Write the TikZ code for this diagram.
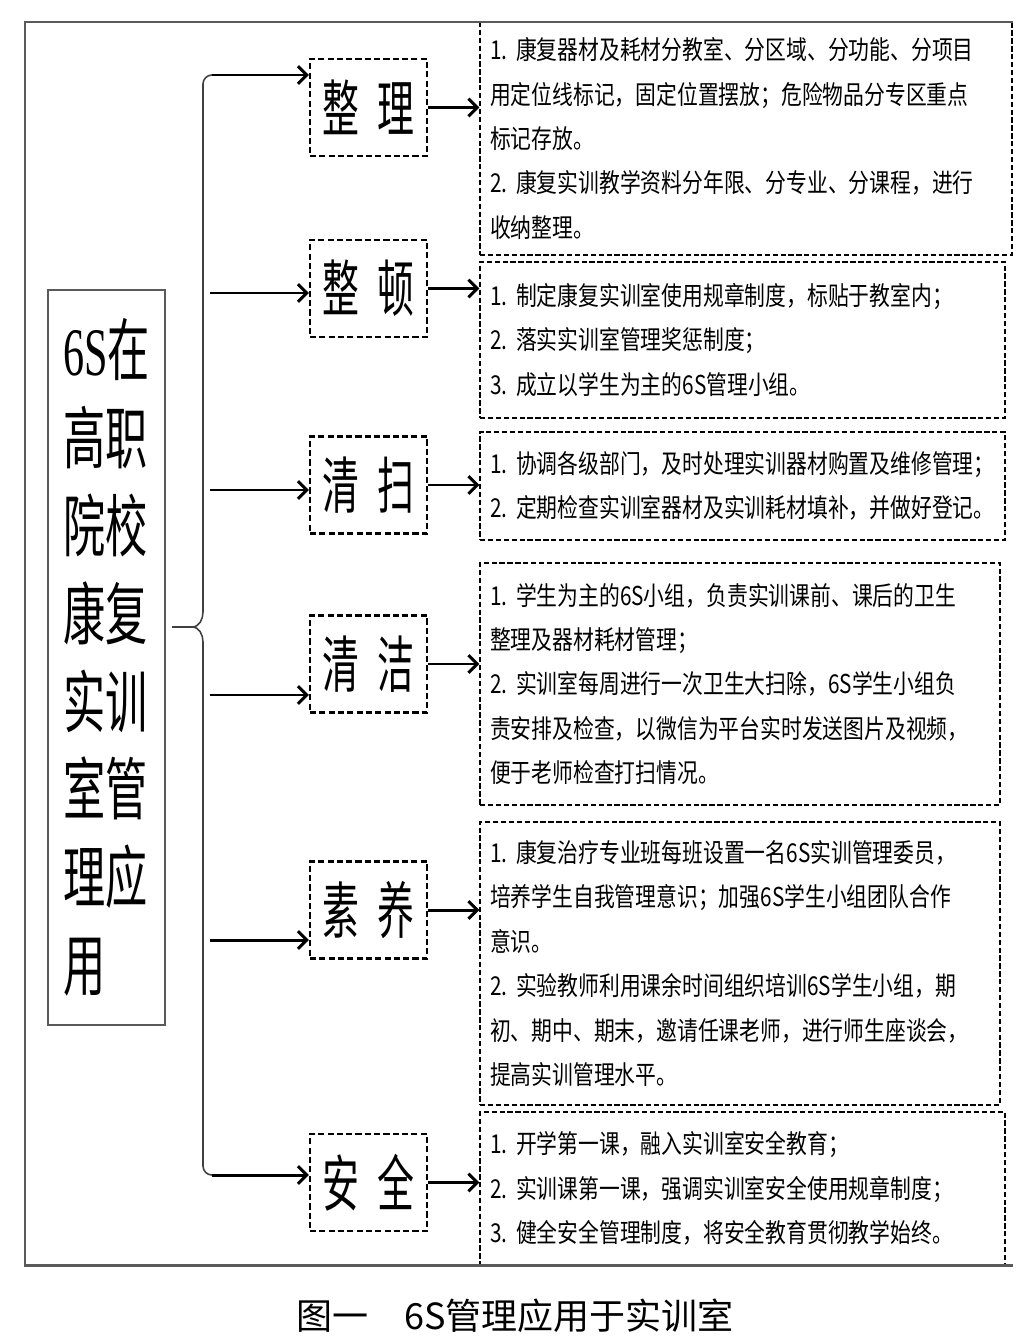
\documentclass[tikz,border=0pt]{standalone}
\usepackage{fontspec}
\usepackage{tikz}
\usepackage{xcolor}
\usetikzlibrary{arrows.meta,calc}
\newfontfamily\cjk{Noto Sans CJK SC}
\newfontfamily\boxfont[FakeStretch=0.8]{Noto Sans CJK SC}
\newfontfamily\itemfont[FakeStretch=0.6]{Noto Sans CJK SC}
\newfontfamily\leftfont[FakeStretch=0.62]{Noto Sans CJK SC}
\newfontfamily\leftlatin[FakeStretch=0.62]{Liberation Serif}
\definecolor{framegray}{RGB}{90,90,90}

\begin{document}
\begin{tikzpicture}[x=0.02cm,y=-0.02cm,>={Straight Barb[length=5pt,width=10pt]},
  mainbox/.style={draw=framegray,line width=1.1pt,minimum width=2.34cm,minimum height=14.7cm,
    align=left,inner xsep=0.2cm,font=\leftfont\fontsize{38.7}{50}\selectfont},
  smallbox/.style={draw,line width=1.4pt,dash pattern=on 3.5pt off 1.8pt,minimum width=2.34cm,
    minimum height=1.94cm,inner sep=0pt,font=\itemfont\fontsize{35}{40}\selectfont},
  textbox/.style={draw,line width=0.9pt,dash pattern=on 3pt off 1.5pt,inner xsep=0.2cm,
    align=left,font=\boxfont\fontsize{14.8}{25.3}\selectfont},
  arr/.style={->,line width=1.7pt},
  brace/.style={line width=0.9pt,draw=black!75}]
  \useasboundingbox (0,0) rectangle (1025,1341);

  % left title box
  \node[mainbox] (core) at (106.5,657.5)
    {{\leftlatin 6S}在\\高职\\院校\\康复\\实训\\室管\\理应\\用};

  % 6S items
  \node[smallbox] (zl) at (368.5,107.5) {整\hspace{10pt}理};
  \node[smallbox] (zd) at (368.5,288.5) {整\hspace{10pt}顿};
  \node[smallbox] (qs) at (368.5,485) {清\hspace{10pt}扫};
  \node[smallbox] (qj) at (368.5,664) {清\hspace{10pt}洁};
  \node[smallbox] (sy) at (368.5,910) {素\hspace{10pt}养};
  \node[smallbox] (aq) at (368.5,1182.5) {安\hspace{10pt}全};

  % measures
  \node[textbox,text width=10.24cm,minimum height=4.66cm] (zlT) at (746,138.5)
    {1.~康复器材及耗材分教室、分区域、分功能、分项目\\
     用定位线标记，固定位置摆放；危险物品分专区重点\\
     标记存放。\\
     2.~康复实训教学资料分年限、分专业、分课程，进行\\
     收纳整理。};
  \node[textbox,text width=10.1cm,minimum height=3.12cm] (zdT) at (742.5,340)
    {1.~制定康复实训室使用规章制度，标贴于教室内；\\
     2.~落实实训室管理奖惩制度；\\
     3.~成立以学生为主的6S管理小组。};
  \node[textbox,text width=10.1cm,minimum height=2.16cm] (qsT) at (742.5,486)
    {1.~协调各级部门，及时处理实训器材购置及维修管理；\\
     2.~定期检查实训室器材及实训耗材填补，并做好登记。};
  \node[textbox,text width=10.0cm,minimum height=4.84cm] (qjT) at (740,684)
    {1.~学生为主的6S小组，负责实训课前、课后的卫生\\
     整理及器材耗材管理；\\
     2.~实训室每周进行一次卫生大扫除，6S学生小组负\\
     责安排及检查，以微信为平台实时发送图片及视频，\\
     便于老师检查打扫情况。};
  \node[textbox,text width=10.0cm,minimum height=5.66cm] (syT) at (740,963.5)
    {1.~康复治疗专业班每班设置一名6S实训管理委员，\\
     培养学生自我管理意识；加强6S学生小组团队合作\\
     意识。\\
     2.~实验教师利用课余时间组织培训6S学生小组，期\\
     初、期中、期末，邀请任课老师，进行师生座谈会，\\
     提高实训管理水平。};
  \node[textbox,text width=10.1cm,minimum height=3.06cm] (aqT) at (742.5,1188.5)
    {1.~开学第一课，融入实训室安全教育；\\
     2.~实训课第一课，强调实训室安全使用规章制度；\\
     3.~健全安全管理制度，将安全教育贯彻教学始终。};

  % outer frame
  \draw[draw=framegray,line width=1.7pt] (1013,22) -- (25,22) -- (25,1265) -- (1013,1265);

  % brace
  \coordinate (b1) at (212,75);
  \coordinate (b2) at (210,293);
  \coordinate (b3) at (210,490);
  \coordinate (b4) at (210,695);
  \coordinate (b5) at (210,940);
  \coordinate (b6) at (212,1175);
  \coordinate (tip) at (172,627);
  \draw[brace] (b1) to[out=180,in=90] (203,84) -- (203,612) to[out=-90,in=0] (192,627)
    to[out=0,in=90] (203,642) -- (203,1166) to[out=-90,in=180] (b6);
  \draw[brace] (tip) -- (192,627);

  \draw[arr] (b1) -- (b1 -| zl.west);
  \draw[arr] (b2) -- (b2 -| zd.west);
  \draw[arr] (b3) -- (b3 -| qs.west);
  \draw[arr] (b4) -- (b4 -| qj.west);
  \draw[arr] (b5) -- (b5 -| sy.west);
  \draw[arr] (b6) -- (b6 -| aq.west);

  \draw[arr] (zl.east) -- (zl.east -| zlT.west);
  \draw[arr] (zd.east) -- (zd.east -| zdT.west);
  \draw[arr] (qs.east) -- (qs.east -| qsT.west);
  \draw[arr] (qj.east) -- (qj.east -| qjT.west);
  \draw[arr] (sy.east) -- (sy.east -| syT.west);
  \draw[arr] (aq.east) -- (aq.east -| aqT.west);

  % caption
  \node[font=\cjk\fontsize{20.5}{24}\selectfont] (cap) at (515,1316)
    {图一\quad 6S管理应用于实训室};
\end{tikzpicture}
\end{document}
